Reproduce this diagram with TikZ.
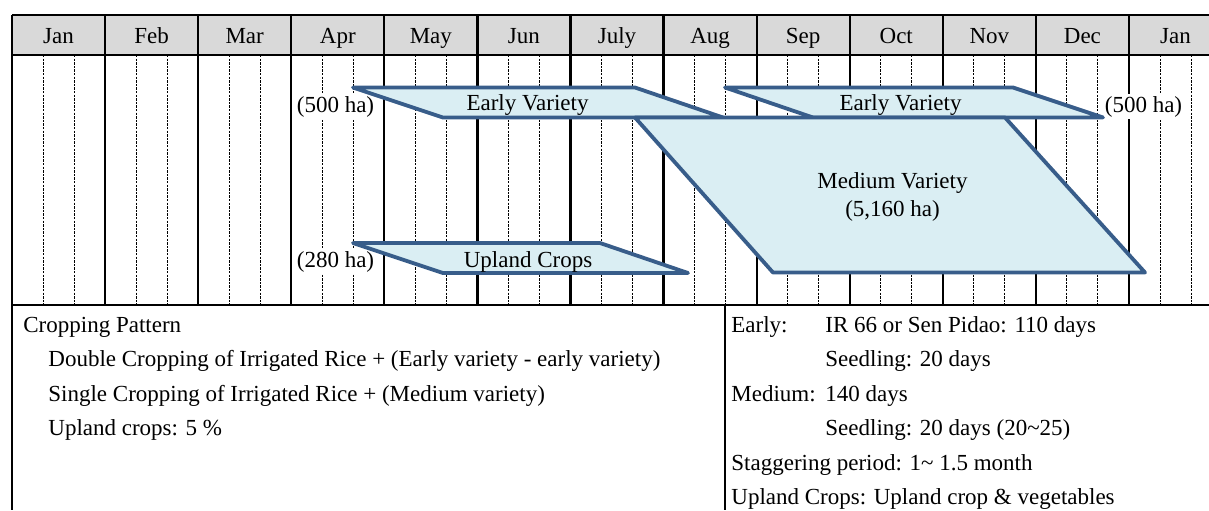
\documentclass[tikz,border=0pt]{standalone}
\usepackage{fontspec}
\setmainfont{Liberation Serif}
\usepackage{xcolor}
\usepackage{tikz}
\usetikzlibrary{positioning}
\definecolor{cropline}{RGB}{56,93,138}
\definecolor{cropfill}{RGB}{218,238,243}
\definecolor{headgray}{RGB}{217,217,217}
\tikzset{
  gridline/.style={line width=1.1pt},
  decade/.style={line width=0.5pt,dash pattern=on 1.2pt off 0.6pt},
  cropshape/.style={draw=cropline,fill=cropfill,line width=1.9pt,line join=round},
  month/.style={anchor=base,inner sep=0pt,font=\fontsize{11.5}{13}\selectfont},
  croplabel/.style={anchor=base,inner sep=1pt,font=\fontsize{11.5}{13}\selectfont},
  arealabel/.style={croplabel,fill=white},
  notes/.style={anchor=base west,inner sep=0pt,font=\fontsize{11.5}{13}\selectfont}
}

\begin{document}
\begin{tikzpicture}[x=0.5pt,y=-0.5pt]
    \useasboundingbox (0,0) rectangle (1209,510);
    % header row
    \fill[headgray] (12,15) rectangle (1209,55);
    \foreach \name [count=\i from 0] in {Jan,Feb,Mar,Apr,May,Jun,July,Aug,Sep,Oct,Nov,Dec,Jan}
        \node[month] (mon\i) at ({12+93.08*(\i+0.5)},43) {\name};

    % ten-day lines and month lines
    \foreach \i in {0,...,12}
        \foreach \d in {1,2}
            \draw[decade] ({12+93.08*\i+31.03*\d},55) -- ({12+93.08*\i+31.03*\d},305);
    \foreach \i in {0,...,12}
        \draw[gridline] ({12+93.08*\i},15) -- ({12+93.08*\i},305);
    \draw[gridline] (12,15) -- (1209,15);
    \draw[gridline] (12,55) -- (1209,55);
    \draw[gridline] (12,305) -- (1209,305);
    \draw[gridline] (12,305) -- (12,510);
    \draw[gridline] (725,305) -- (725,510);

    \node[arealabel] (ha1) at (335.5,112) {(500 ha)};
    \node[arealabel] (ha2) at (335.5,267) {(280 ha)};
    \node[arealabel] (ha3) at (1143.5,112) {(500 ha)};

    % crop periods
    \draw[cropshape] (353,87.5) -- (635,87.5) -- (723,117.5) -- (443,117.5) -- cycle;
    \draw[cropshape] (725,87.5) -- (1013,87.5) -- (1103,117.5) -- (813,117.5) -- cycle;
    \draw[cropshape] (635,117.5) -- (1005,117.5) -- (1145,272.5) -- (773,272.5) -- cycle;
    \draw[cropshape] (353,243) -- (600,243) -- (688,273) -- (443,273) -- cycle;

    \node[croplabel] (early1) at (527.5,110) {Early Variety};
    \node[croplabel] (early2) at (900.5,110) {Early Variety};
    \node[croplabel] (medium) at (892.5,188) {Medium Variety};
    \node[croplabel] (mediumha) at (892.5,216.5) {(5,160 ha)};
    \node[croplabel] (upland) at (528,267) {Upland Crops};

    % notes
    \node[notes] (cp0) at (23,332) {Cropping Pattern};
    \foreach \txt [count=\i] in {Double Cropping of Irrigated Rice + (Early variety - early variety),
                                 Single Cropping of Irrigated Rice + (Medium variety),
                                 Upland crops: 5 \%}
        \node[notes] (cp\i) at (48,{332+34.5*\i}) {\txt};

    \node[notes] (var0) at (731,332) {Early:};
    \node[notes] (var0b) at (825,332) {IR 66 or Sen Pidao: 110 days};
    \node[notes] (var1) at (825,366.5) {Seedling: 20 days};
    \node[notes] (var2) at (731,401) {Medium:};
    \node[notes] (var2b) at (825,401) {140 days};
    \node[notes] (var3) at (825,435.5) {Seedling: 20 days (20\textasciitilde25)};
    \node[notes] (var4) at (731,470) {Staggering period: 1\textasciitilde{} 1.5 month};
    \node[notes] (var5) at (731,504.5) {Upland Crops: Upland crop \& vegetables};
\end{tikzpicture}
\end{document}
